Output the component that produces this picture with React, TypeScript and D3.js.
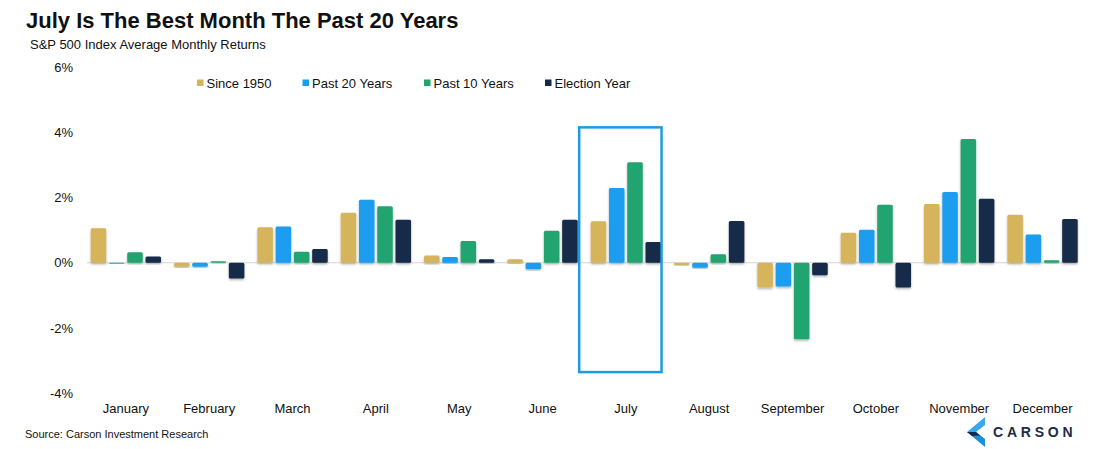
import React from "react";
import * as d3 from "d3";

const months = ["January","February","March","April","May","June","July","August","September","October","November","December"];
const seriesNames = ["Since 1950","Past 20 Years","Past 10 Years","Election Year"];
const since1950 = [1.06,-0.12,1.09,1.53,0.22,0.11,1.27,-0.07,-0.76,0.92,1.80,1.47];
const past20 = [-0.03,-0.12,1.11,1.93,0.18,-0.20,2.29,-0.15,-0.73,1.01,2.17,0.87];
const past10 = [0.32,0.05,0.34,1.73,0.67,0.98,3.08,0.26,-2.34,1.78,3.79,0.08];
const election = [0.19,-0.48,0.42,1.32,0.11,1.32,0.64,1.28,-0.38,-0.76,1.96,1.34];
const yTicks = [-4,-2,0,2,4,6];
const colors = ["#D5B45C","#1A9DEF","#22A46F","#152A48"];

const W = 1101, H = 449;
const FONT = "'Liberation Sans', Arial, sans-serif";

export default function App() {
  const series = [since1950, past20, past10, election];
  const x0 = d3.scaleBand<string>().domain(months).range([84.2, 1084.2]).paddingInner(0.156).paddingOuter(0.078);
  const x1 = d3.scaleBand<number>().domain([0,1,2,3]).range([0, x0.bandwidth()]).paddingInner(0.15).paddingOuter(0);
  const y = d3.scaleLinear().domain([-4, 6]).range([393.3, 67]);
  const fmt = (v: number) => `${v}%`;
  const legendX = [197, 302.5, 424, 545];
  const julyX = x0("July")!;

  return (
    <svg width={W} height={H} style={{ position: "absolute", left: 0, top: 0, background: "#fff" }} fontFamily={FONT}>
      <defs>
        <filter id="sh" x="-20%" y="-20%" width="140%" height="140%">
          <feDropShadow dx="0" dy="1.5" stdDeviation="0.8" floodColor="#000" floodOpacity="0.3" />
        </filter>
      </defs>
      <text x={26} y={28} fontSize={22} fontWeight="bold" fill="#111">July Is The Best Month The Past 20 Years</text>
      <text x={30} y={49} fontSize={13} fill="#111">S&amp;P 500 Index Average Monthly Returns</text>

      {yTicks.map(t => (
        <text key={t} x={73} y={y(t)} dy="0.36em" textAnchor="end" fontSize={13} fill="#111">{fmt(t)}</text>
      ))}

      <line x1={87} x2={1078} y1={y(0)} y2={y(0)} stroke="#d4d4d4" strokeWidth={1} />

      {months.map((m, i) => (
        <g key={m} transform={`translate(${x0(m)},0)`}>
          {series.map((s, k) => {
            const v = s[i];
            const top = y(Math.max(0, v));
            const h = Math.abs(y(v) - y(0));
            return <rect key={k} x={x1(k)} y={top} width={x1.bandwidth()} height={Math.max(h, 1)} rx={1.5} fill={colors[k]} filter="url(#sh)" />;
          })}
        </g>
      ))}

      <rect x={julyX - 11.5} y={y(4.15)} width={x0.bandwidth() + 12} height={y(-3.35) - y(4.15)} fill="none" stroke="#1E9BE0" strokeWidth={2.5} />

      {months.map(m => (
        <text key={m} x={x0(m)! + x0.bandwidth() / 2} y={408} dy="0.36em" textAnchor="middle" fontSize={13} fill="#111">{m}</text>
      ))}

      {seriesNames.map((n, k) => (
        <g key={n}>
          <rect x={legendX[k]} y={79.5} width={6.5} height={6.5} fill={colors[k]} />
          <text x={legendX[k] + 9.5} y={83} dy="0.36em" fontSize={13} fill="#111">{n}</text>
        </g>
      ))}

      <text x={25} y={434} dy="0.36em" fontSize={11} fill="#111">Source: Carson Investment Research</text>

      <g>
        <polygon points="985,417 985,425 976,432 967,432" fill="#3AA8EE" />
        <polygon points="967,432 976,432 985,439 985,447" fill="#1B8ED8" />
        <polygon points="967,432 976,432 980,435.5 972,436" fill="#152A48" />
        <text x={993} y={432} dy="0.36em" fontSize={14} fontWeight="bold" letterSpacing={3.8} fill="#1B2B47">CARSON</text>
      </g>
    </svg>
  );
}
